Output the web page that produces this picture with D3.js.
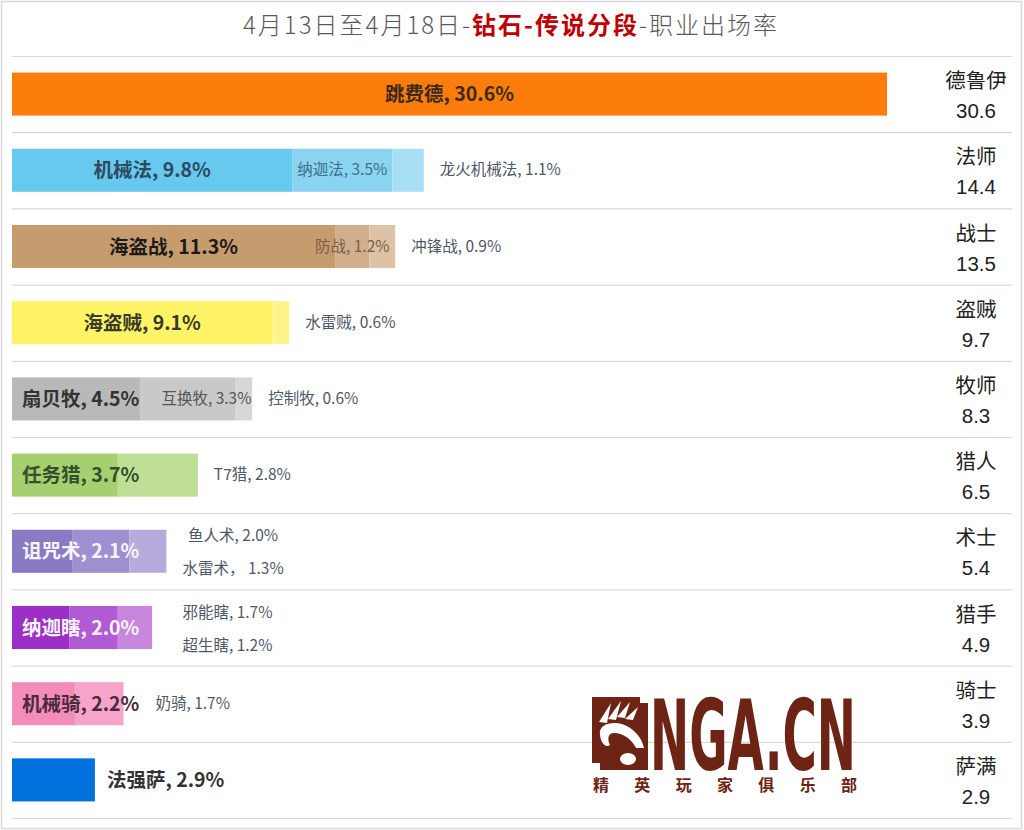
<!DOCTYPE html>
<html><head><meta charset="utf-8">
<script src="https://cdn.jsdelivr.net/npm/d3@7"></script>
<style>
html,body{margin:0;padding:0;background:#fff;}
svg{display:block;font-family:"Noto Sans CJK SC","Noto Sans",sans-serif;}
</style></head>
<body>
<svg id="c" width="1024" height="830"></svg>
<script>
// ---- data ----
const classes = ['德鲁伊','法师','战士','盗贼','牧师','猎人','术士','猎手','骑士','萨满'];
const classTotals = [30.6,14.4,13.5,9.7,8.3,6.5,5.4,4.9,3.9,2.9];
const deckNames = [
  ['跳费德'],
  ['机械法','纳迦法','龙火机械法'],
  ['海盗战','防战','冲锋战'],
  ['海盗贼','水雷贼'],
  ['扇贝牧','互换牧','控制牧'],
  ['任务猎','T7猎'],
  ['诅咒术','鱼人术','水雷术'],
  ['纳迦瞎','邪能瞎','超生瞎'],
  ['机械骑','奶骑'],
  ['法强萨']
];
const deckRates = [
  [30.6],
  [9.8,3.5,1.1],
  [11.3,1.2,0.9],
  [9.1,0.6],
  [4.5,3.3,0.6],
  [3.7,2.8],
  [2.1,2.0,1.3],
  [2.0,1.7,1.2],
  [2.2,1.7],
  [2.9]
];
const titleParts = ['4月13日至4月18日-','钻石-传说分段','-职业出场率'];

// ---- styles ----
const segColors = [
  ['#FC7D0B'],
  ['#68C9EF','#8AD4F2','#A8DFF5'],
  ['#C69B6D','#D2AE8C','#DDC2A6'],
  ['#FFF468','#FFF48C'],
  ['#B9B9B9','#C9C9C9','#D7D7D7'],
  ['#A6CF6F','#BFDF96'],
  ['#8A7AC4','#9E90D0','#B7ABDD'],
  ['#9C2FC5','#B05BD3','#C886DF'],
  ['#F48CBA','#F6A5C9'],
  ['#0070DD']
];
const mainLabelColors = ['#3a2a1a','#2D4B60','#1a1a1a','#3a3a28','#333333','#33502c','#F5F5F5','#F5F5F5','#4a2a3c','#333333'];
const inLabelColors = [null,'#3F6F8A','#786048',null,'#555555',null,null,null,null,null];
// how secondary labels are placed: 'in' = inside own segment, 'out' = right of bar, 'stack' = stacked right of bar
const labelModes = [[],['in','out'],['in','out'],['out'],['in','out'],['out'],['stack','stack'],['stack','stack'],['out'],[]];
const mainOutside = [false,false,false,false,false,false,false,false,false,true];

const svg = d3.select('#c');
const W = 1024, H = 830;
const grid = '#D9D9D9';

// border
svg.append('rect').attr('x',1.5).attr('y',1.5).attr('width',W-4).attr('height',H-3)
  .attr('fill','none').attr('stroke',grid).attr('stroke-width',1.5);

// title
const title = svg.append('text').attr('x',511).attr('y',34).attr('text-anchor','middle')
  .attr('font-size',24).attr('letter-spacing',2);
title.append('tspan').text(titleParts[0]).attr('fill','#595959').attr('font-weight',300);
title.append('tspan').text(titleParts[1]).attr('fill','#C00000').attr('font-weight',700);
title.append('tspan').text(titleParts[2]).attr('fill','#595959').attr('font-weight',300);

// scales
const x = d3.scaleLinear().domain([0, d3.max(deckRates, r => d3.sum(r))]).range([12, 887]);
const y = d3.scaleBand().domain(classes).range([56, 818]);
const bw = y.bandwidth();
const barH = bw * 0.565;

// separators
const seps = [56].concat(classes.map(c => y(c) + bw));
svg.selectAll('line.sep').data(seps).join('line').attr('class','sep')
  .attr('x1',12).attr('x2',1012).attr('y1',d=>d+0.5).attr('y2',d=>d+0.5)
  .attr('stroke',grid).attr('stroke-width',1.2);

const fmt = v => v.toFixed(1) + '%';

// common x for stacked labels
const stackRows = labelModes.map((m,i) => m.includes('stack') ? i : -1).filter(i => i >= 0);
const stackStart = d3.max(stackRows, i => x(d3.sum(deckRates[i]))) + 16;

classes.forEach((cls, i) => {
  const cy = y(cls) + bw/2;
  const g = svg.append('g');
  const rates = deckRates[i];
  const starts = [];
  let acc = 0;
  rates.forEach(r => { starts.push(acc); acc += r; });
  const segs = rates.map((r, j) => ({r, s: starts[j], name: deckNames[i][j], color: segColors[i][j]}));
  g.selectAll('rect').data(segs).join('rect')
    .attr('x', d => x(d.s)).attr('width', d => x(d.s + d.r) - x(d.s))
    .attr('y', cy - barH/2).attr('height', barH)
    .attr('fill', d => d.color);
  const barEnd = x(acc);

  // main label
  const m = g.append('text').attr('y', cy + 7).attr('font-size',19.5).attr('font-weight',700)
    .attr('fill', mainLabelColors[i]).text(segs[0].name + ', ' + fmt(segs[0].r));
  const mw = m.node().getComputedTextLength();
  let mainEnd;
  if (mainOutside[i]) {
    m.attr('x', barEnd + 12).attr('text-anchor','start');
    mainEnd = barEnd + 12 + mw;
  } else {
    const c0 = (x(segs[0].s) + x(segs[0].s + segs[0].r)) / 2;
    const cx = Math.max(c0, x(0) + 10 + mw/2);
    m.attr('x', cx).attr('text-anchor','middle');
    mainEnd = cx + mw/2;
  }

  // secondary labels
  let lastEnd = mainEnd;
  const modes = labelModes[i];
  const stackIdx = [];
  segs.slice(1).forEach((d, k) => {
    const mode = modes[k];
    const t = g.append('text').attr('font-size',15.5).attr('fill', mode === 'in' ? inLabelColors[i] : '#4F5866')
      .text(d.name + (d.name === '水雷术' ? '， ' : ', ') + fmt(d.r));
    const w = t.node().getComputedTextLength();
    if (mode === 'in') {
      const c = (x(d.s) + x(d.s + d.r)) / 2;
      const sx = Math.max(c - w/2, lastEnd + 22);
      t.attr('x', sx).attr('y', cy + 5);
      lastEnd = sx + w;
    } else if (mode === 'out') {
      const sx = Math.max(barEnd, lastEnd) + 16;
      t.attr('x', sx).attr('y', cy + 5);
      lastEnd = sx + w;
    } else {
      stackIdx.push({t, w});
    }
  });
  if (stackIdx.length) {
    const maxW = d3.max(stackIdx, s => s.w);
    const cx = stackStart + maxW/2;
    stackIdx.forEach((s, k) => {
      s.t.attr('x', cx).attr('text-anchor','middle').attr('y', cy + (k === 0 ? -10 : 23));
    });
  }

  // right class labels
  g.append('text').attr('x', 976).attr('y', cy - 6).attr('text-anchor','middle')
    .attr('font-size',20.5).attr('fill','#222').text(cls);
  g.append('text').attr('x', 976).attr('y', cy + 24).attr('text-anchor','middle')
    .attr('font-size',20.5).attr('fill','#222')
    .attr('font-family','"Liberation Sans","DejaVu Sans",sans-serif').text(classTotals[i]);
});

// ---- NGA logo ----
const brown = '#6E2414';
const logo = svg.append('g');
logo.append('path').attr('fill', brown)
  .attr('d','M592,697 L640,697 L640,703 L648,703 L648,770 L600,770 L600,763 L592,763 Z');
// claws
const claws = [[603,722,611,703],[612,719,621,701],[621,717,630,702],[629,719,638,707]];
claws.forEach(c => {
  logo.append('path').attr('fill','#fff')
    .attr('d', `M${c[0]-4},${c[1]} L${c[2]},${c[3]} L${c[0]+4},${c[1]+1} Z`);
});
// palm
logo.append('path').attr('fill','#fff')
  .attr('d','M600,735 C598,724 612,721 622,724 C634,728 642,738 644,748 L636,748 C632,740 624,733 614,733 C608,733 607,739 610,745 C605,748 601,743 600,735 Z');
logo.append('ellipse').attr('fill','#fff').attr('cx',628).attr('cy',759).attr('rx',8).attr('ry',6);
const ngaG = logo.append('g');
const nga = ngaG.append('text').attr('x',0).attr('y',0).attr('font-size',98).attr('font-weight',700)
  .attr('font-family','"DejaVu Sans Condensed","DejaVu Sans",sans-serif')
  .attr('fill',brown).text('NGA.CN');
const ngaW = nga.node().getComputedTextLength();
ngaG.attr('transform', `translate(650,770) scale(${206/ngaW},1)`);
logo.append('text').attr('x',593).attr('y',791).attr('font-size',16).attr('font-weight',700)
  .attr('fill',brown).attr('textLength',264).attr('lengthAdjust','spacing').text('精英玩家俱乐部');
</script>
</body></html>
